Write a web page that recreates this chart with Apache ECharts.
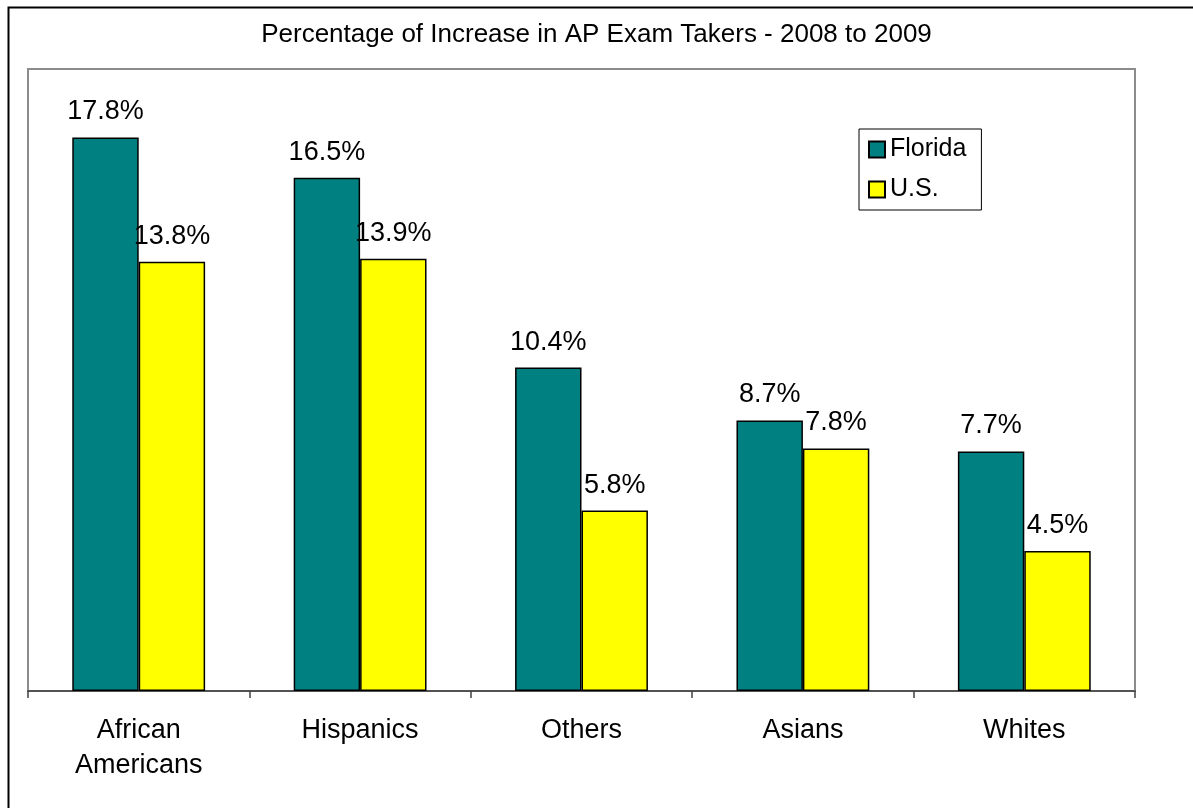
<!DOCTYPE html>
<html><head><meta charset="utf-8">
<script src="https://cdn.jsdelivr.net/npm/echarts@6/dist/echarts.min.js"></script>
<style>html,body{margin:0;padding:0;background:#fff}#c{width:1193px;height:808px}</style>
</head><body><div id="c"></div>
<script>
const categories = ['African\nAmericans', 'Hispanics', 'Others', 'Asians', 'Whites'];
const floridaValues = [17.8, 16.5, 10.4, 8.7, 7.7];
const usValues = [13.8, 13.9, 5.8, 7.8, 4.5];
const seriesNames = ['Florida', 'U.S.'];
const titleText = 'Percentage of Increase in AP Exam Takers - 2008 to 2009';

const FONT = 'Liberation Sans, Arial, sans-serif';
const chart = echarts.init(document.getElementById('c'), null, {renderer: 'canvas'});
const labelCfg = {
  show: true, position: 'top', distance: 12,
  formatter: p => p.value.toFixed(1) + '%',
  fontFamily: FONT, fontSize: 27, color: '#000'
};
chart.setOption({
  animation: false,
  backgroundColor: '#fff',
  graphic: [{
    type: 'rect', left: 6, top: 5, silent: true,
    shape: {x: 0, y: 0, width: 1300, height: 1000},
    style: {fill: 'none', stroke: '#000', lineWidth: 2}
  }],
  title: {
    text: titleText, left: 'center', top: 17,
    textStyle: {fontFamily: FONT, fontSize: 26, fontWeight: 'normal', color: '#000'}
  },
  legend: {
    orient: 'vertical', left: 859, top: 129,
    padding: [5, 15, 5, 9],
    itemWidth: 16, itemHeight: 16, itemGap: 9, itemTextGap: 5,
    icon: 'rect',
    borderColor: '#000', borderWidth: 1,
    textStyle: {fontFamily: FONT, fontSize: 25, color: '#000', lineHeight: 31},
    data: seriesNames
  },
  grid: {
    left: 28, right: 58, top: 69, bottom: 117,
    show: true, borderColor: '#8c8c8c', borderWidth: 2, backgroundColor: 'transparent',
    containLabel: false
  },
  xAxis: {
    type: 'category', data: categories,
    axisLine: {show: true, lineStyle: {color: '#404040', width: 1.5}},
    axisTick: {show: true, length: 7, lineStyle: {color: '#404040', width: 1.5}},
    axisLabel: {fontFamily: FONT, fontSize: 27, color: '#000', margin: 22, lineHeight: 35}
  },
  yAxis: {
    type: 'value', min: 0, max: 20, interval: 5,
    axisLine: {show: false}, axisTick: {show: false},
    axisLabel: {show: false}, splitLine: {show: false}
  },
  series: [
    {
      name: seriesNames[0], type: 'bar', data: floridaValues,
      barGap: '0%', barCategoryGap: '40%',
      itemStyle: {color: '#008080', borderColor: '#000', borderWidth: 1.5},
      label: labelCfg
    },
    {
      name: seriesNames[1], type: 'bar', data: usValues,
      barGap: '0%', barCategoryGap: '40%',
      itemStyle: {color: '#ffff00', borderColor: '#000', borderWidth: 1.5},
      label: labelCfg
    }
  ]
});
</script></body></html>
